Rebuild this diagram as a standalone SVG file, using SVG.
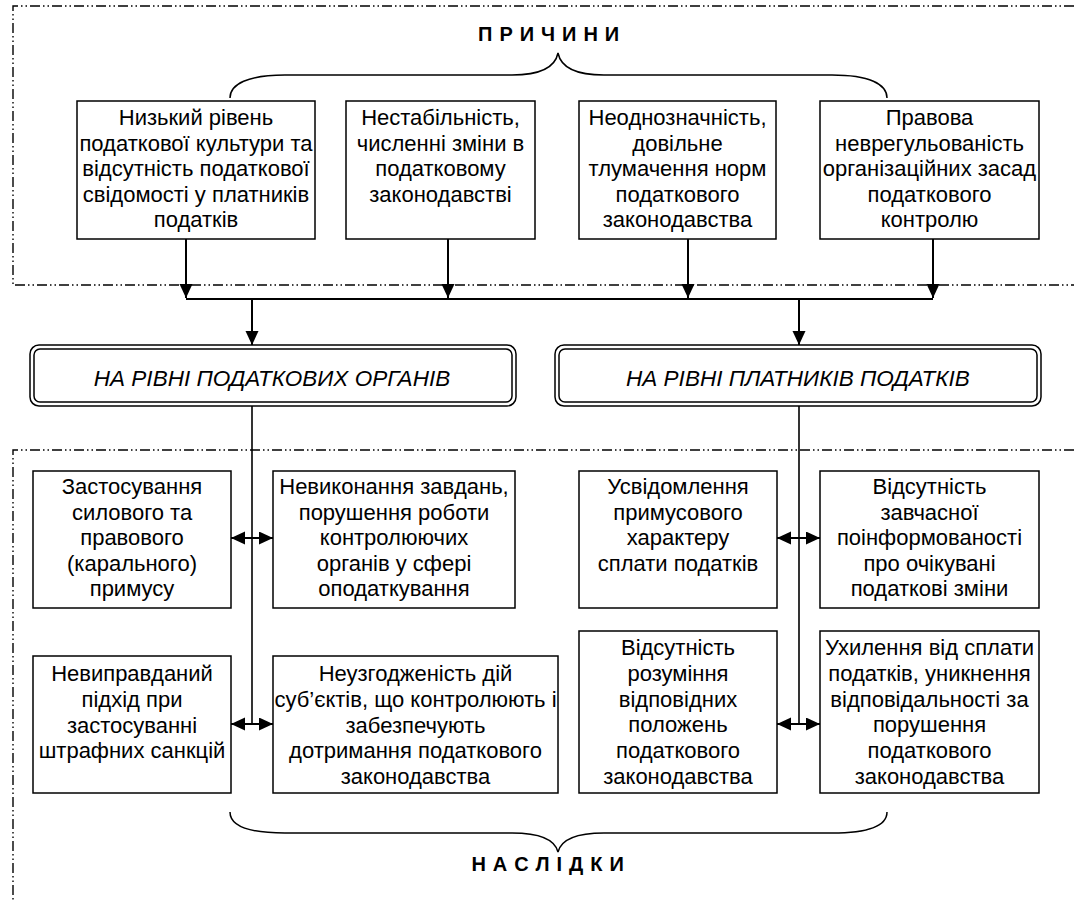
<svg xmlns="http://www.w3.org/2000/svg" width="1074" height="901" viewBox="0 0 1074 901">
<style>
  .bg{fill:#fff}
  .frame{fill:none;stroke:#000;stroke-width:1.4;stroke-dasharray:10 3 1.5 3 1.5 3}
  .box{fill:#fff;stroke:#000;stroke-width:1.5}
  .t{font-family:"Liberation Sans",Arial,sans-serif;font-size:22px;fill:#000;text-anchor:middle}
  .it{font-family:"Liberation Sans",Arial,sans-serif;font-size:22.5px;font-style:italic;fill:#000;text-anchor:middle}
  .hd{font-family:"Liberation Sans",Arial,sans-serif;font-size:20px;font-weight:bold;fill:#000;text-anchor:middle;letter-spacing:0.7px}
  .ln{fill:none;stroke:#000;stroke-width:2}
  .thin{fill:none;stroke:#000;stroke-width:1.6}
  .brace{fill:none;stroke:#000;stroke-width:1.5}
</style>
<defs>
  <marker id="ah" markerUnits="userSpaceOnUse" markerWidth="15" markerHeight="14" refX="14" refY="6.5" orient="auto-start-reverse">
    <path d="M0,0 L14,6.5 L0,13 z" fill="#000"/>
  </marker>
</defs>
<rect class="bg" x="0" y="0" width="1074" height="901"/>

<g id="frames">
  <path class="frame" d="M1074,6 L13,6 L13,285 L1074,285"/>
  <path class="frame" d="M1074,450 L13,450 L13,901"/>
</g>

<g id="title-top">
  <text class="hd" x="549" y="41">П Р И Ч И Н И</text>
  <path class="brace" d="M230,98 C230,84 248,75 285,75 L512,75 C540,75 555,68 558,53 C561,68 576,75 604,75 L832,75 C869,75 887,84 887,98"/>
</g>

<g id="cause1">
  <rect class="box" x="77" y="101" width="238" height="138"/>
  <text class="t" x="196" y="125"><tspan x="196">Низький рівень</tspan><tspan x="196" dy="25.5">податкової культури та</tspan><tspan x="196" dy="25.5">відсутність податкової</tspan><tspan x="196" dy="25.5">свідомості у платників</tspan><tspan x="196" dy="25.5">податків</tspan></text>
</g>
<g id="cause2">
  <rect class="box" x="346" y="101" width="189" height="138"/>
  <text class="t" x="440.5" y="125"><tspan x="440.5">Нестабільність,</tspan><tspan x="440.5" dy="25.5">численні зміни в</tspan><tspan x="440.5" dy="25.5">податковому</tspan><tspan x="440.5" dy="25.5">законодавстві</tspan></text>
</g>
<g id="cause3">
  <rect class="box" x="579" y="101" width="197" height="138"/>
  <text class="t" x="677.5" y="125"><tspan x="677.5">Неоднозначність,</tspan><tspan x="677.5" dy="25.5">довільне</tspan><tspan x="677.5" dy="25.5">тлумачення норм</tspan><tspan x="677.5" dy="25.5">податкового</tspan><tspan x="677.5" dy="25.5">законодавства</tspan></text>
</g>
<g id="cause4">
  <rect class="box" x="820" y="101" width="219" height="138"/>
  <text class="t" x="929.5" y="125"><tspan x="929.5">Правова</tspan><tspan x="929.5" dy="25.5">неврегульованість</tspan><tspan x="929.5" dy="25.5">організаційних засад</tspan><tspan x="929.5" dy="25.5">податкового</tspan><tspan x="929.5" dy="25.5">контролю</tspan></text>
</g>

<g id="level-organs">
  <rect class="box" x="30" y="345" width="486" height="61" rx="9"/>
  <rect class="box" x="34" y="349" width="478" height="53" rx="6"/>
  <text class="it" x="272" y="386">НА РІВНІ ПОДАТКОВИХ ОРГАНІВ</text>
</g>
<g id="level-payers">
  <rect class="box" x="555" y="345" width="486" height="61" rx="9"/>
  <rect class="box" x="559" y="349" width="478" height="53" rx="6"/>
  <text class="it" x="798" y="386">НА РІВНІ ПЛАТНИКІВ ПОДАТКІВ</text>
</g>

<g id="cons1">
  <rect class="box" x="33" y="471" width="198" height="137"/>
  <text class="t" x="132" y="494"><tspan x="132">Застосування</tspan><tspan x="132" dy="25.6">силового та</tspan><tspan x="132" dy="25.6">правового</tspan><tspan x="132" dy="25.6">(карального)</tspan><tspan x="132" dy="25.6">примусу</tspan></text>
</g>
<g id="cons2">
  <rect class="box" x="273" y="471" width="242" height="137"/>
  <text class="t" x="394" y="494"><tspan x="394">Невиконання завдань,</tspan><tspan x="394" dy="25.6">порушення роботи</tspan><tspan x="394" dy="25.6">контролюючих</tspan><tspan x="394" dy="25.6">органів у сфері</tspan><tspan x="394" dy="25.6">оподаткування</tspan></text>
</g>
<g id="cons3">
  <rect class="box" x="579" y="471" width="198" height="137"/>
  <text class="t" x="678" y="494"><tspan x="678">Усвідомлення</tspan><tspan x="678" dy="25.6">примусового</tspan><tspan x="678" dy="25.6">характеру</tspan><tspan x="678" dy="25.6">сплати податків</tspan></text>
</g>
<g id="cons4">
  <rect class="box" x="820" y="471" width="219" height="137"/>
  <text class="t" x="929.5" y="494"><tspan x="929.5">Відсутність</tspan><tspan x="929.5" dy="25.6">завчасної</tspan><tspan x="929.5" dy="25.6">поінформованості</tspan><tspan x="929.5" dy="25.6">про очікувані</tspan><tspan x="929.5" dy="25.6">податкові зміни</tspan></text>
</g>
<g id="cons5">
  <rect class="box" x="33" y="656" width="198" height="137"/>
  <text class="t" x="132" y="681"><tspan x="132">Невиправданий</tspan><tspan x="132" dy="25.8">підхід при</tspan><tspan x="132" dy="25.8">застосуванні</tspan><tspan x="132" dy="25.8">штрафних санкцій</tspan></text>
</g>
<g id="cons6">
  <rect class="box" x="273" y="656" width="285" height="137"/>
  <text class="t" x="415.5" y="681"><tspan x="415.5">Неузгодженість дій</tspan><tspan x="415.5" dy="25.8">суб’єктів, що контролюють і</tspan><tspan x="415.5" dy="25.8">забезпечують</tspan><tspan x="415.5" dy="25.8">дотримання податкового</tspan><tspan x="415.5" dy="25.8">законодавства</tspan></text>
</g>
<g id="cons7">
  <rect class="box" x="579" y="631" width="198" height="162"/>
  <text class="t" x="678" y="655"><tspan x="678">Відсутність</tspan><tspan x="678" dy="25.8">розуміння</tspan><tspan x="678" dy="25.8">відповідних</tspan><tspan x="678" dy="25.8">положень</tspan><tspan x="678" dy="25.8">податкового</tspan><tspan x="678" dy="25.8">законодавства</tspan></text>
</g>
<g id="cons8">
  <rect class="box" x="820" y="631" width="219" height="162"/>
  <text class="t" x="929.5" y="655"><tspan x="929.5">Ухилення від сплати</tspan><tspan x="929.5" dy="25.8">податків, уникнення</tspan><tspan x="929.5" dy="25.8">відповідальності за</tspan><tspan x="929.5" dy="25.8">порушення</tspan><tspan x="929.5" dy="25.8">податкового</tspan><tspan x="929.5" dy="25.8">законодавства</tspan></text>
</g>

<g id="title-bottom">
  <path class="brace" d="M230,812 C230,826 248,833 285,833 L512,833 C540,833 555,840 558,852 C561,840 576,833 604,833 L832,833 C869,833 887,826 887,812"/>
  <text class="hd" x="548" y="871">Н А С Л І Д К И</text>
</g>

<g id="connectors">
  <line class="ln" x1="186" y1="239" x2="186" y2="298" marker-end="url(#ah)"/>
  <line class="ln" x1="448" y1="239" x2="448" y2="298" marker-end="url(#ah)"/>
  <line class="ln" x1="688" y1="239" x2="688" y2="298" marker-end="url(#ah)"/>
  <line class="ln" x1="933" y1="239" x2="933" y2="298" marker-end="url(#ah)"/>
  <line class="ln" x1="186" y1="299" x2="933" y2="299"/>
  <line class="ln" x1="252" y1="299" x2="252" y2="345" marker-end="url(#ah)"/>
  <line class="ln" x1="799" y1="299" x2="799" y2="345" marker-end="url(#ah)"/>
  <line class="thin" x1="252" y1="406" x2="252" y2="725"/>
  <line class="thin" x1="799" y1="406" x2="799" y2="725"/>
  <line class="ln" x1="231" y1="538" x2="273" y2="538" marker-start="url(#ah)" marker-end="url(#ah)"/>
  <line class="ln" x1="777" y1="538" x2="820" y2="538" marker-start="url(#ah)" marker-end="url(#ah)"/>
  <line class="ln" x1="231" y1="724" x2="273" y2="724" marker-start="url(#ah)" marker-end="url(#ah)"/>
  <line class="ln" x1="777" y1="724" x2="820" y2="724" marker-start="url(#ah)" marker-end="url(#ah)"/>
</g>
</svg>
